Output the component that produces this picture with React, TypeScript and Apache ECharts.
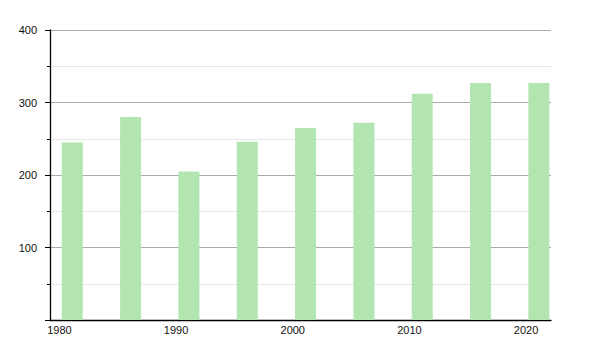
import React, { useEffect, useRef } from "react";
import * as echarts from "echarts";

const years = [1980, 1985, 1990, 1995, 2000, 2005, 2010, 2015, 2020];
const values = [245, 280, 205, 246, 265, 272, 312, 327, 327];
const xLabels = [1980, 1990, 2000, 2010, 2020];
const yTicks = { min: 0, max: 400, interval: 100 };

export default function App() {
  const ref = useRef<HTMLDivElement>(null);
  useEffect(() => {
    if (!ref.current) return;
    const chart = echarts.init(ref.current, null, { renderer: "svg" });
    const font = "Liberation Sans, Arial, sans-serif";
    chart.setOption({
      animation: false,
      grid: { left: 50, right: 49, top: 30, bottom: 30, containLabel: false },
      xAxis: [
        {
          type: "value",
          min: 1978.09,
          max: 2021.04,
          show: false,
        },
        {
          type: "value",
          min: 1979.19,
          max: 2022.14,
          position: "bottom",
          axisLine: { show: true, onZero: false, lineStyle: { color: "#000", width: 1.3 } },
          axisTick: { show: false },
          splitLine: { show: false },
          axisLabel: {
            customValues: xLabels,
            fontSize: 11,
            color: "#111",
            fontFamily: font,
            margin: 4,
            formatter: (v: number) => String(v),
          },
        },
      ],
      yAxis: {
        type: "value",
        min: yTicks.min,
        max: yTicks.max,
        interval: yTicks.interval,
        axisLine: { show: true, lineStyle: { color: "#000", width: 1.3 } },
        axisTick: { show: true, length: 5, lineStyle: { color: "#000" } },
        minorTick: { show: true, splitNumber: 2, length: 3, lineStyle: { color: "#000" } },
        splitLine: { show: true, lineStyle: { color: "#aaaaaa", width: 1 } },
        minorSplitLine: { show: true, lineStyle: { color: "#e6e6e6", width: 1 } },
        axisLabel: {
          fontSize: 11,
          color: "#111",
          fontFamily: font,
          margin: 13,
          showMinLabel: false,
        },
      },
      series: [
        {
          type: "bar",
          xAxisIndex: 0,
          barWidth: 21,
          itemStyle: { color: "#b2e5b0" },
          data: years.map((y, i) => [y, values[i]]),
        },
      ],
    });
    return () => chart.dispose();
  }, []);
  return (
    <div
      ref={ref}
      style={{ position: "absolute", left: 0, top: 0, width: 600, height: 350 }}
    />
  );
}
